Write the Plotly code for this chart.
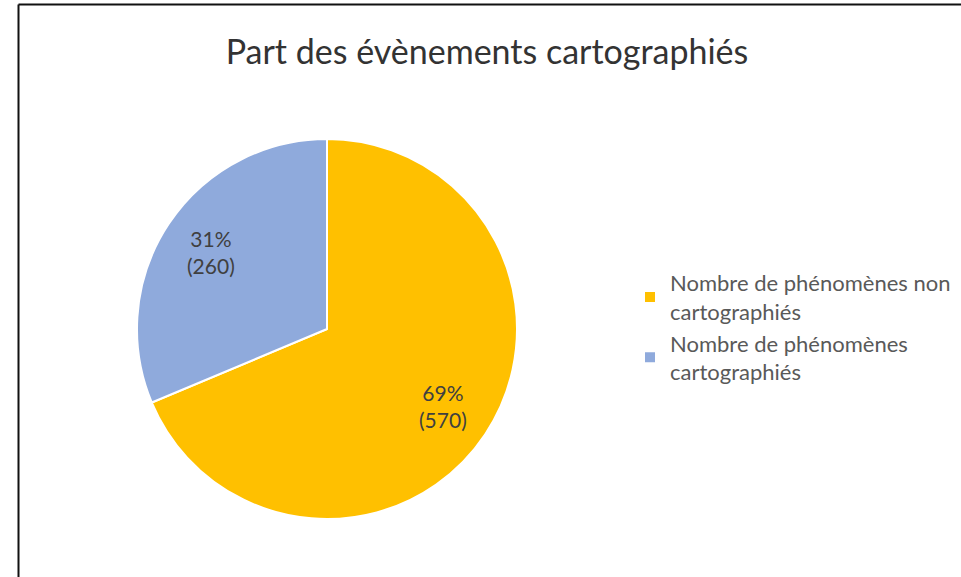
import math
import plotly.graph_objects as go

W, H = 961, 577

labels = ["Nombre de phénomènes non<br>cartographiés", "Nombre de phénomènes<br>cartographiés"]
values = [570, 260]
colors = ["#FFC000", "#8FAADC"]
title_text = "Part des évènements cartographiés"

cx, cy, r = 327, 329, 190
label_k = 0.73


def px(x):
    return x / W


def py(y):
    return 1 - y / H


fig = go.Figure(go.Pie(
    labels=labels,
    values=values,
    sort=False,
    direction="clockwise",
    rotation=0,
    marker=dict(colors=colors, line=dict(color="white", width=2)),
    textinfo="none",
    domain=dict(x=[px(cx - r), px(cx + r)], y=[py(cy + r), py(cy - r)]),
    hoverinfo="label+value+percent",
))

# data labels placed on each slice's bisector, computed from the values
total = sum(values)
annotations = []
cum = 0
for v in values:
    mid = (cum + v / 2) / total * 2 * math.pi
    cum += v
    lx = cx + label_k * r * math.sin(mid)
    ly = cy - label_k * r * math.cos(mid)
    annotations.append(dict(
        x=px(lx), y=py(ly), xref="paper", yref="paper", showarrow=False,
        text=f"{round(100 * v / total)}%<br>({v})",
        font=dict(family="Lato", size=21, color="#404040"),
        xanchor="center", yanchor="middle", align="center",
    ))

fig.update_layout(
    width=W, height=H,
    margin=dict(l=0, r=0, t=0, b=0),
    paper_bgcolor="white",
    plot_bgcolor="white",
    title=dict(text=title_text, x=px(487), xanchor="center", y=py(52), yanchor="middle",
               font=dict(family="Lato", size=34, color="#333333")),
    legend=dict(x=px(630), y=py(262), xanchor="left", yanchor="top",
                font=dict(family="Lato", size=22, color="#595959"),
                itemwidth=30),
    annotations=annotations,
    shapes=[
        dict(type="line", xref="paper", yref="paper", x0=px(18.5), x1=1.01, y0=py(4.5), y1=py(4.5),
             line=dict(color="#111111", width=2)),
        dict(type="line", xref="paper", yref="paper", x0=px(18.5), x1=px(18.5), y0=-0.01, y1=py(4.5),
             line=dict(color="#111111", width=2)),
    ],
)

fig.write_html("out.html", config={"displayModeBar": False},
               post_script="document.body.style.margin='0';")
